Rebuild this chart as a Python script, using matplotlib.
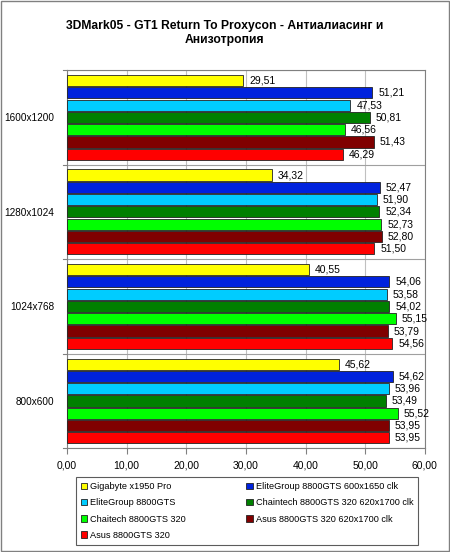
import numpy as np
import matplotlib.pyplot as plt
from matplotlib.patches import Rectangle

plt.rcParams['font.family'] = ['Liberation Sans', 'DejaVu Sans']

# Data
resolutions = ['1600x1200', '1280x1024', '1024x768', '800x600']
series_names = ['Gigabyte x1950 Pro',
                'EliteGroup 8800GTS 600x1650 clk',
                'EliteGroup 8800GTS',
                'Chaintech 8800GTS 320 620x1700 clk',
                'Chaitech 8800GTS 320',
                'Asus 8800GTS 320 620x1700 clk',
                'Asus 8800GTS 320']
gigabyte = [29.51, 34.32, 40.55, 45.62]
elite_oc = [51.21, 52.47, 54.06, 54.62]
elite = [47.53, 51.90, 53.58, 53.96]
chaintech_oc = [50.81, 52.34, 54.02, 53.49]
chaintech = [46.56, 52.73, 55.15, 55.52]
asus_oc = [51.43, 52.80, 53.79, 53.95]
asus = [46.29, 51.50, 54.56, 53.95]
series = [gigabyte, elite_oc, elite, chaintech_oc, chaintech, asus_oc, asus]
colors = ['#FFFF00', '#0022DD', '#00CCFF', '#008000', '#00FF00', '#800000', '#FF0000']

fig = plt.figure(figsize=(4.5, 5.52), dpi=100)
fig.patches.append(Rectangle((0.002, 0.002), 0.996, 0.996, transform=fig.transFigure,
                             fill=False, edgecolor='#808080', linewidth=1.0))
ax = fig.add_axes([0.149, 0.188, 0.795, 0.685])

n = len(series)
pitch = 0.13
bar_h = 0.118
y_base = np.arange(len(resolutions))
for i, (vals, c) in enumerate(zip(series, colors)):
    ys = y_base - (n - 1) / 2 * pitch + i * pitch
    ax.barh(ys, vals, height=bar_h, color=c, edgecolor='#222222',
            linewidth=0.6, label=series_names[i], zorder=3)
    for y, v in zip(ys, vals):
        ax.text(v + 1.0, y, f'{v:.2f}'.replace('.', ','), va='center', ha='left',
                fontsize=7.5, zorder=4)

ax.set_xlim(0, 60)
ax.set_ylim(len(resolutions) - 0.5, -0.5)
ax.set_xticks(np.arange(0, 61, 10))
ax.set_xticklabels([f'{t:.2f}'.replace('.', ',') for t in np.arange(0, 61, 10)], fontsize=7.5)
ax.set_yticks(y_base)
ax.set_yticklabels(resolutions, fontsize=7.2)
ax.tick_params(axis='y', length=0, pad=9)
ax.tick_params(axis='x', length=4, color='#808080', direction='out', pad=5)
# group boundary ticks and separators
for b in np.arange(-0.5, len(resolutions), 1.0):
    ax.plot([-0.6, 0], [b, b], color='#808080', lw=0.8, clip_on=False, zorder=2)
    ax.axhline(b, color='#a0a0a0', lw=0.8, zorder=2)
ax.grid(axis='x', color='#c0c0c0', lw=0.8, zorder=0)
for s in ax.spines.values():
    s.set_color('#808080')
    s.set_linewidth(0.8)

fig.suptitle('3DMark05 - GT1 Return To Proxycon - Антиалиасинг и\nАнизотропия',
             fontsize=8.7, fontweight='bold', y=0.964)

handles, labels = ax.get_legend_handles_labels()
order = [0, 2, 4, 6, 1, 3, 5]
leg = fig.legend([handles[k] for k in order], [labels[k] for k in order],
                 loc='lower center', bbox_to_anchor=(0.549, 0.013), ncol=2,
                 fontsize=6.6, frameon=True, fancybox=False, edgecolor='#333333',
                 handlelength=0.7, handleheight=0.7, handletextpad=0.3,
                 columnspacing=6.6, labelspacing=0.78, borderpad=0.55,
                 borderaxespad=0)
leg.get_frame().set_linewidth(0.8)

fig.savefig('out.png', dpi=100)
